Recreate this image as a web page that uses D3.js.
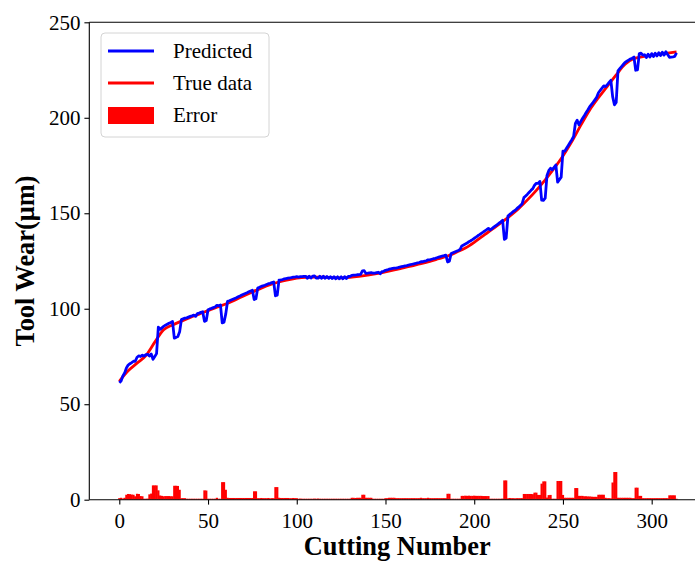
<!DOCTYPE html>
<html>
<head>
<meta charset="utf-8">
<script src="https://cdn.jsdelivr.net/npm/d3@7"></script>
<style>
  html, body { margin: 0; padding: 0; background: #fff; }
  svg { display: block; font-family: "Liberation Serif", "Times New Roman", serif; }
</style>
</head>
<body>
<svg id="chart" width="695" height="563"></svg>
<script>
// Cutting numbers 0..314
const cutNumbers = d3.range(0, 315);

// Measured tool wear (smooth reference curve), sampled every 5 cuts
const trueCuts = [0,5,10,15,20,25,30,35,40,45,50,55,60,65,70,75,80,85,90,95,
  100,105,110,115,120,125,130,135,140,145,150,155,160,165,170,175,180,185,190,195,
  200,205,210,215,220,225,230,235,240,245,250,255,260,265,270,275,280,285,290,295,
  300,305,310,314];
const trueWear = [62,67.5,71.5,75.5,82.5,89,91.5,93.5,95.5,97.2,99,100.8,102.5,104.5,106.7,108.8,110.8,112.6,114,115.1,
  116,116.5,116.6,116.5,116.3,116.2,116.4,116.9,117.6,118.4,119.3,120.3,121.4,122.5,123.6,124.8,126.2,127.6,129.6,131.8,
  134.8,138.2,141.5,145,148.5,152.4,157,162,167.5,173.5,180,187.5,196,204,210.5,216.5,222.5,228,231,232,
  232.8,233.4,234,234.5];

// Predicted tool wear, one value per cut
const predicted = [
  61.2,62.1,64.8,66.3,69.0,70.5,71.2,71.8,72.5,72.5,
  74.6,75.3,75.0,75.7,75.2,76.0,76.1,75.2,76.3,73.5,
  75.0,76.5,90.4,89.2,90.0,90.8,91.4,91.9,92.4,92.8,
  93.3,84.6,85.0,85.5,87.9,94.3,94.7,95.1,95.2,95.6,
  96.0,96.3,96.7,96.0,97.4,97.7,98.1,98.4,93.4,93.8,
  99.5,99.9,100.2,100.6,100.9,101.8,101.6,102.0,92.6,93.0,
  97.3,103.9,104.2,104.6,105.0,105.4,105.8,106.3,106.7,107.2,
  107.6,108.0,108.4,108.9,109.3,109.7,104.8,105.2,110.8,111.2,
  111.7,112.0,112.3,112.7,113.1,113.3,113.7,114.0,106.8,107.1,
  115.0,115.1,115.3,115.6,115.8,116.0,116.1,116.3,116.5,116.6,
  116.8,116.6,116.8,116.8,116.9,117.0,116.0,117.0,116.1,117.1,
  117.2,116.1,116.0,117.0,116.0,117.0,116.0,116.9,115.9,116.8,
  115.8,116.8,115.7,116.7,115.7,116.7,115.7,116.8,115.8,116.9,
  116.9,117.5,117.6,117.6,117.8,117.9,118.0,119.8,119.9,118.5,
  118.6,118.8,118.9,118.6,118.7,118.9,119.1,118.3,119.4,119.6,
  120.1,120.3,120.7,120.9,121.1,121.3,121.3,121.5,121.8,122.0,
  122.2,122.4,122.6,122.9,123.1,123.3,123.5,123.7,124.0,124.2,
  124.6,124.6,124.9,125.1,125.6,125.6,125.9,126.2,126.4,126.7,
  127.0,127.3,127.6,127.8,128.1,124.5,124.9,128.9,129.3,129.7,
  130.1,130.5,131.0,132.9,133.4,133.9,134.4,135.1,135.6,136.2,
  136.9,137.5,138.2,138.8,139.5,140.1,140.8,141.4,142.1,141.3,
  142.0,142.7,143.4,144.1,144.8,145.5,146.3,136.3,137.0,148.5,
  149.4,150.1,150.9,151.5,152.4,153.2,154.1,155.0,158.2,159.1,
  160.0,161.0,162.0,162.9,164.7,165.7,165.6,166.7,156.9,156.8,
  157.9,169.8,172.3,173.6,172.8,174.0,175.3,166.3,167.6,168.9,
  182.5,182.5,184.0,185.5,187.0,188.5,190.2,197.0,198.7,196.3,
  198.0,199.6,201.0,202.6,204.1,205.7,206.9,208.1,209.4,210.7,
  213.1,214.3,215.5,216.7,216.3,217.3,218.5,219.6,211.1,206.8,
  208.0,224.6,225.7,226.8,227.9,229.0,229.6,230.2,230.8,231.2,
  231.8,224.9,225.1,233.6,233.8,232.8,233.0,231.5,233.3,231.8,
  233.6,232.1,233.8,232.4,234.1,232.6,234.3,232.8,234.6,233.1,
  231.7,231.8,231.9,232.1,234.0
];

// Absolute prediction error, one value per cut
const errors = [
  0.8,1.0,0.6,1.0,2.6,3.0,2.9,2.7,2.6,1.8,
  3.1,3.0,1.9,1.8,0.5,0.5,0.6,2.8,3.2,7.5,
  7.5,7.5,4.9,2.2,2.0,1.8,1.9,1.9,1.9,1.8,
  1.8,7.3,7.3,7.2,5.2,0.8,0.8,0.8,0.5,0.5,
  0.5,0.5,0.5,0.5,0.5,0.5,0.5,0.5,4.9,4.8,
  0.5,0.5,0.5,0.5,0.5,1.0,0.5,0.5,9.2,9.2,
  5.2,1.0,0.9,0.9,0.9,0.9,0.9,0.9,0.9,0.9,
  0.9,0.9,0.9,0.9,0.9,0.9,4.4,4.4,0.8,0.8,
  0.9,0.8,0.8,0.8,0.9,0.7,0.8,0.8,6.6,6.6,
  1.0,0.9,0.9,0.9,0.9,0.9,0.8,0.8,0.9,0.8,
  0.8,0.5,0.6,0.5,0.5,0.5,0.5,0.5,0.5,0.5,
  0.6,0.5,0.6,0.5,0.5,0.5,0.5,0.5,0.5,0.5,
  0.5,0.5,0.5,0.5,0.5,0.5,0.5,0.5,0.5,0.5,
  0.5,1.0,1.0,0.9,1.0,1.0,1.0,2.6,2.6,1.0,
  1.0,1.0,1.0,0.5,0.5,0.5,0.5,0.5,0.5,0.5,
  0.8,0.8,1.0,1.0,1.0,1.0,0.8,0.8,0.8,0.8,
  0.8,0.8,0.8,0.8,0.8,0.8,0.8,0.8,0.8,0.8,
  1.0,0.8,0.8,0.8,1.0,0.8,0.8,0.8,0.8,0.8,
  0.8,0.8,0.8,0.8,0.8,3.1,3.1,0.5,0.5,0.5,
  0.5,0.5,0.5,2.0,2.0,2.1,2.0,2.1,2.0,2.0,
  2.1,2.0,2.0,2.0,2.0,1.9,1.9,1.9,1.9,0.5,
  0.5,0.5,0.5,0.5,0.5,0.5,0.6,10.1,10.1,0.7,
  0.9,0.8,0.8,0.7,0.8,0.8,0.8,0.8,3.0,3.0,
  3.0,3.0,3.0,2.9,3.7,3.7,2.5,2.5,8.4,9.6,
  9.6,1.1,2.4,2.5,0.5,0.5,0.5,9.8,9.8,9.8,
  2.5,1.0,1.0,1.0,1.0,1.0,1.0,6.1,6.1,2.0,
  2.0,2.0,1.8,1.8,1.7,1.7,1.6,1.5,1.5,1.5,
  2.6,2.6,2.6,2.6,1.0,0.8,0.8,0.7,9.0,14.5,
  14.5,1.0,1.0,1.0,1.0,1.0,1.0,1.0,1.0,0.8,
  0.8,6.3,6.3,2.0,2.0,0.8,0.8,0.8,0.8,0.8,
  0.8,0.8,0.8,0.8,0.8,0.8,0.8,0.8,0.8,0.8,
  2.3,2.3,2.3,2.3,0.5
];

const xTicks = [0, 50, 100, 150, 200, 250, 300];
const yTicks = [0, 50, 100, 150, 200, 250];
const legendItems = ["Predicted", "True data", "Error"];

const svg = d3.select("#chart");
svg.append("rect").attr("width", 695).attr("height", 563).attr("fill", "#fff");

const plot = { left: 89.3, right: 705.1, top: 22.3, bottom: 499.7 };
const x = d3.scaleLinear().domain([-16.9, 330.1]).range([plot.left, plot.right]);
const y = d3.scaleLinear().domain([0, 250]).range([plot.bottom, plot.top]);

svg.append("clipPath").attr("id", "plot-area")
  .append("rect")
  .attr("x", plot.left).attr("y", plot.top)
  .attr("width", plot.right - plot.left).attr("height", plot.bottom - plot.top);

const area = svg.append("g").attr("clip-path", "url(#plot-area)");

// Error bars (slightly overlapped so neighbouring bars read as one solid strip)
const barW = x(1) - x(0);
area.append("g").selectAll("rect")
  .data(cutNumbers)
  .join("rect")
  .attr("x", i => x(i) - barW / 2 - 0.25)
  .attr("width", barW + 0.5)
  .attr("y", i => y(errors[i]))
  .attr("height", i => y(0) - y(errors[i]))
  .attr("fill", "#ff0000");

// True data curve
const trueLine = d3.line()
  .x((d, k) => x(trueCuts[k]))
  .y(d => y(d))
  .curve(d3.curveMonotoneX);
area.append("path")
  .attr("d", trueLine(trueWear))
  .attr("fill", "none")
  .attr("stroke", "#ff0000")
  .attr("stroke-width", 2.8)
  .attr("stroke-linejoin", "round");

// Predicted curve
const predLine = d3.line()
  .x((d, i) => x(cutNumbers[i]))
  .y(d => y(d));
area.append("path")
  .attr("d", predLine(predicted))
  .attr("fill", "none")
  .attr("stroke", "#0000ff")
  .attr("stroke-width", 2.8)
  .attr("stroke-linejoin", "round");

// Axes
const xAxis = svg.append("g")
  .attr("transform", `translate(0,${plot.bottom})`)
  .call(d3.axisBottom(x).tickValues(xTicks).tickSize(4.9).tickFormat(d3.format("d")));
xAxis.select(".domain").remove();
xAxis.selectAll(".tick line").attr("stroke", "#000").attr("stroke-width", 1.1);
xAxis.selectAll(".tick text")
  .attr("y", 28.3).attr("dy", null)
  .attr("fill", "#000")
  .style("font-size", "21px")
  .style("font-family", '"Liberation Serif", "Times New Roman", serif');

const yAxis = svg.append("g")
  .attr("transform", `translate(${plot.left},0)`)
  .call(d3.axisLeft(y).tickValues(yTicks).tickSize(4.9).tickFormat(d3.format("d")));
yAxis.select(".domain").remove();
yAxis.selectAll(".tick line").attr("stroke", "#000").attr("stroke-width", 1.1);
yAxis.selectAll(".tick text")
  .attr("x", -8.8)
  .attr("dy", "0.32em")
  .attr("fill", "#000")
  .style("font-size", "21px")
  .style("font-family", '"Liberation Serif", "Times New Roman", serif');

// Spines (left, top, bottom; right edge falls outside the view)
const spines = svg.append("g").attr("stroke", "#000").attr("stroke-width", 1.1).attr("fill", "none");
spines.append("line").attr("x1", plot.left).attr("x2", plot.left).attr("y1", plot.top).attr("y2", plot.bottom);
spines.append("line").attr("x1", plot.left).attr("x2", plot.right).attr("y1", plot.top).attr("y2", plot.top);
spines.append("line").attr("x1", plot.left).attr("x2", plot.right).attr("y1", plot.bottom).attr("y2", plot.bottom);

// Axis titles
svg.append("text")
  .attr("x", (plot.left + plot.right) / 2).attr("y", 555)
  .attr("text-anchor", "middle")
  .attr("font-weight", "bold")
  .style("font-size", "26.4px")
  .text("Cutting Number");

svg.append("text")
  .attr("transform", `translate(34,${(plot.top + plot.bottom) / 2}) rotate(-90)`)
  .attr("text-anchor", "middle")
  .attr("font-weight", "bold")
  .style("font-size", "26.4px")
  .text("Tool Wear(μm)");

// Legend
const legend = svg.append("g");
legend.append("rect")
  .attr("x", 101).attr("y", 33).attr("width", 168).attr("height", 104)
  .attr("rx", 4).attr("ry", 4)
  .attr("fill", "#fff").attr("fill-opacity", 0.8)
  .attr("stroke", "#d4d4d4").attr("stroke-width", 1);

const rowY = [51, 83, 115.5];
legend.append("line").attr("x1", 108).attr("x2", 154).attr("y1", rowY[0]).attr("y2", rowY[0])
  .attr("stroke", "#0000ff").attr("stroke-width", 2.8);
legend.append("line").attr("x1", 108).attr("x2", 154).attr("y1", rowY[1]).attr("y2", rowY[1])
  .attr("stroke", "#ff0000").attr("stroke-width", 2.8);
legend.append("rect").attr("x", 108).attr("y", 107).attr("width", 46).attr("height", 17)
  .attr("fill", "#ff0000");

legend.selectAll("text.item")
  .data(legendItems)
  .join("text")
  .attr("class", "item")
  .attr("x", 173)
  .attr("y", (d, i) => rowY[i])
  .attr("dy", "0.32em")
  .attr("fill", "#000")
  .style("font-size", "21px")
  .text(d => d);
</script>
</body>
</html>
